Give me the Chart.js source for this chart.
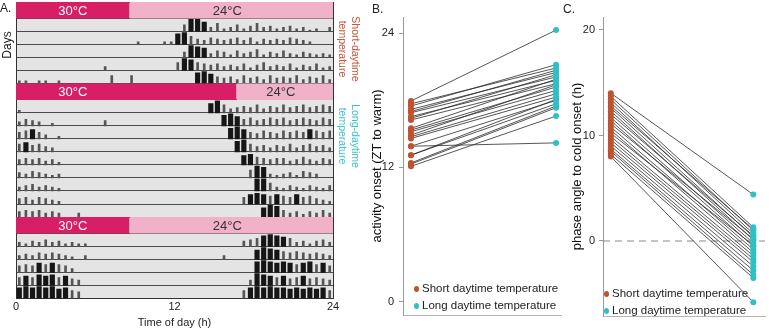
<!DOCTYPE html>
<html lang="en">
<head>
<meta charset="UTF-8">
<title>Warm/cold daytime temperature and activity onset</title>
<script src="https://cdn.jsdelivr.net/npm/chart.js"></script>
<style>
    body { margin: 0; background: #fff; font-family: "Liberation Sans", Arial, sans-serif; color: #222; }
    #wrap { position: relative; width: 769px; height: 330px; overflow: hidden; }
    canvas { position: absolute; top: 0; }
    .lbl { position: absolute; font-size: 12px; line-height: 12px; }
    .rot { position: absolute; text-align: center; white-space: nowrap; }
    .leg { position: absolute; font-size: 11.5px; line-height: 12px; white-space: nowrap; }
    .leg i { display: inline-block; width: 5px; height: 6px; border-radius: 50%; margin-right: 3px; vertical-align: 0; }
</style>
</head>
<body>
<div id="wrap">
    <canvas id="chartA" width="345" height="330" style="left:0"></canvas>
    <canvas id="chartB" width="220" height="330" style="left:345px"></canvas>
    <canvas id="chartC" width="214" height="330" style="left:555px"></canvas>

    <div class="lbl" style="left:0;top:2px">A.</div>
    <div class="lbl" style="left:372px;top:3px">B.</div>
    <div class="lbl" style="left:563px;top:3px">C.</div>

    <!-- подписи сбоку от актограммы -->
    <div class="rot" style="left:-20px;top:38px;width:54px;height:14px;font-size:12px;transform:rotate(-90deg)">Days</div>
    <div class="rot" style="left:314px;top:36px;width:70px;height:26px;font-size:10.5px;line-height:13px;color:#c4553a;transform:rotate(90deg)">Short-daytime<br>temperature</div>
    <div class="rot" style="left:314px;top:123px;width:70px;height:26px;font-size:10.5px;line-height:13px;color:#3cc4c8;transform:rotate(90deg)">Long-daytime<br>temperature</div>

    <!-- легенды B и C -->
    <div class="leg" style="left:414px;top:282px"><i style="background:#c0522f"></i>Short daytime temperature</div>
    <div class="leg" style="left:414px;top:299px"><i style="background:#2fc0c6"></i>Long daytime temperature</div>
    <div class="leg" style="left:604px;top:287px"><i style="background:#c0522f"></i>Short daytime temperature</div>
    <div class="leg" style="left:604px;top:304px"><i style="background:#2fc0c6"></i>Long daytime temperature</div>
</div>

<script>
// ---- A. актограмма ----
// конец тёплой фазы (30°C) в каждом блоке, часы
const WARM_END = [8.6, 16.7, 8.6];
const ROWS_PER_BLOCK = [5, 9, 5];
const TEMP_LABELS = ['30°C', '24°C'];
const HOUR_TICKS = [0, 12, 24];
const BIN_H = 0.5;
// активность по получасовым бинам, уровень 0-9
const ACTIVITY = [
    '00000000 00000000 00000000 05997362 35246342 34231203',
    '00000000 00000000 00200022 89643543 45352434 35432000',
    '00000000 00000000 00000000 04987354 25346243 53243232',
    '00000000 00000300 00000000 69865453 43524634 35243523',
    '22022020 00000060 06000000 00089754 53645364 54635463',
    '20000000 00000000 00000000 00000796 34546354 64564565',
    '35430200 00000400 00000000 00000008 97564565 64565465',
    '56753020 00000000 00000000 00000000 89754654 65657656',
    '67564300 00000000 00000000 00000000 08964535 46356453',
    '45453420 00000000 00000000 00000000 00786545 53464354',
    '43543230 00000000 00000000 00000000 00069832 34254300',
    '34534320 00000000 00000000 00000000 00009963 24324324',
    '45354320 00000000 00000000 00000000 00578767 65756432',
    '45453430 03000000 00000000 00000000 00000798 53424353',
    '32435342 32200000 00000000 00000000 00456898 76342453',
    '34354543 20300000 00000000 00000003 00007987 65654543',
    '56576765 30000000 00000000 00000000 00008987 87678675',
    '67687867 54000000 00000000 00000000 00049876 75675654',
    '89898978 65000000 00000000 00000000 00689898 87878786'
];

// ---- B. начало активности (ZT к тёплой фазе) ----
const B_SHORT = [17.95, 17.7, 17.5, 17.2, 17.0, 16.9, 16.55, 16.4, 16.25, 15.5, 15.35, 15.2, 14.9, 14.75, 14.6, 13.9, 13.9, 13.1, 13.1, 12.4, 12.3, 12.1];
const B_LONG  = [24.3, 20.9, 21.2, 20.5, 20.7, 20.1, 19.8, 20.3, 19.5, 19.9, 19.2, 18.9, 19.4, 18.6, 18.3, 18.0, 14.2, 18.1, 17.7, 17.5, 17.35, 16.6];
const B_TICKS = [0, 12, 24];

// ---- C. фазовый угол к началу холода ----
const C_SHORT = [14.0, 13.7, 13.4, 13.1, 12.8, 12.6, 12.3, 12.0, 11.7, 11.4, 11.1, 10.8, 10.5, 10.2, 9.9, 9.6, 9.3, 9.0, 8.7, 8.5, 8.2, 8.0];
const C_LONG  = [4.4, 1.3, 1.0, 0.7, 1.1, 0.4, 0.1, 0.5, -0.2, -0.5, 0.2, -0.8, -1.1, -0.4, -1.4, -1.7, -2.0, -2.4, -2.8, -3.2, -3.5, -5.8];
const C_TICKS = [0, 10, 20];

const FONT = '"Liberation Sans", Arial, sans-serif';
const RED = '#c0522f', CYAN = '#2fc0c6';
Chart.defaults.font.family = FONT;
Chart.defaults.color = '#222';

// строим строки актограммы
const HEAD_H = 1.26, ROW_H = 1;
const bounds = [0], headers = [], denseBars = [], sparseBars = [];
let yPos = 0, k = 0;
WARM_END.forEach(function (end, b) {
    headers.push({ top: yPos, bottom: yPos + HEAD_H, end: end });
    yPos += HEAD_H;
    bounds.push(yPos);
    for (let r = 0; r < ROWS_PER_BLOCK[b]; r++, k++) {
        const base = yPos + ROW_H;
        ACTIVITY[k].replace(/ /g, '').split('').forEach(function (c, i) {
            const lv = +c;
            if (!lv) return;
            const bar = { x: (i + 0.5) * BIN_H, y: [base, base - lv / 9 * 0.92 * ROW_H] };
            (lv >= 7 ? denseBars : sparseBars).push(bar);
        });
        yPos = base;
        bounds.push(yPos);
    }
});
const Y_MAX_A = yPos;

const headerSets = [];
headers.forEach(function (h) {
    headerSets.push({
        type: 'line', data: [{ x: 0, y: h.top }, { x: h.end, y: h.top }],
        fill: { value: h.bottom }, backgroundColor: '#d81f66',
        borderColor: 'transparent', pointRadius: 0
    });
    headerSets.push({
        type: 'line', data: [{ x: h.end, y: h.top }, { x: 24, y: h.top }],
        fill: { value: h.bottom }, backgroundColor: '#f1b1c9',
        borderColor: 'transparent', pointRadius: 0
    });
});

const greyBack = {
    id: 'greyBack',
    beforeDraw(chart) {
        const a = chart.chartArea, ctx = chart.ctx;
        ctx.save();
        ctx.fillStyle = '#e4e4e4';
        ctx.fillRect(a.left, a.top, a.right - a.left, a.bottom - a.top);
        ctx.restore();
    }
};

const headerLabels = {
    id: 'headerLabels',
    afterDatasetsDraw(chart) {
        const ctx = chart.ctx, x = chart.scales.x, y = chart.scales.y;
        ctx.save();
        ctx.font = '13px ' + FONT;
        ctx.textAlign = 'center';
        ctx.textBaseline = 'middle';
        headers.forEach(function (h) {
            const cy = y.getPixelForValue(h.top + HEAD_H / 2) + 1;
            ctx.fillStyle = '#fff';
            ctx.fillText(TEMP_LABELS[0], x.getPixelForValue(4.3), cy);
            ctx.fillStyle = '#333';
            ctx.fillText(TEMP_LABELS[1], x.getPixelForValue((h.end + 24) / 2 - 0.3), cy);
        });
        ctx.restore();
    }
};

new Chart(document.getElementById('chartA'), {
    data: {
        datasets: headerSets.concat([
            { type: 'bar', data: denseBars, grouped: false, barThickness: 4.5, borderWidth: 0, backgroundColor: '#161616' },
            { type: 'bar', data: sparseBars, grouped: false, barThickness: 2, borderWidth: 0, backgroundColor: '#555' }
        ])
    },
    options: {
        responsive: false, animation: false,
        layout: { padding: { left: 16, right: 12, top: 2, bottom: 1.5 } },
        plugins: { legend: { display: false }, tooltip: { enabled: false } },
        scales: {
            x: {
                type: 'linear', min: 0, max: 24, offset: false,
                afterBuildTicks: function (a) { a.ticks = HOUR_TICKS.map(function (v) { return { value: v }; }); },
                ticks: { font: { size: 11, lineHeight: 1 }, padding: 2.5, color: '#222' },
                grid: { display: false, drawTicks: false },
                border: { color: '#333' },
                title: { display: true, text: 'Time of day (h)', font: { size: 11, lineHeight: 1 }, padding: { top: 3, bottom: 0 }, color: '#222' }
            },
            y: {
                type: 'linear', min: 0, max: Y_MAX_A, reverse: true, z: 1,
                afterBuildTicks: function (a) { a.ticks = bounds.map(function (v) { return { value: v }; }); },
                ticks: { display: false },
                grid: { color: '#4a4a4a', drawTicks: false },
                border: { color: '#333' }
            },
            y2: {
                type: 'linear', position: 'right', min: 0, max: 1,
                ticks: { display: false },
                grid: { display: false, drawTicks: false },
                border: { color: '#333' }
            }
        }
    },
    plugins: [greyBack, headerLabels]
});

// парные точки для B и C
function pairedSets(shortVals, longVals) {
    const sets = [];
    shortVals.forEach(function (s, i) {
        sets.push({
            data: [{ x: 0, y: s }, { x: 1, y: longVals[i] }],
            borderColor: '#2b2b2b', borderWidth: 0.8, pointRadius: 0, order: 2
        });
    });
    sets.push({
        data: shortVals.map(function (v) { return { x: 0, y: v }; }), showLine: false,
        pointRadius: 3, pointBackgroundColor: RED, pointBorderWidth: 0, clip: false, order: 0
    });
    sets.push({
        data: longVals.map(function (v) { return { x: 1, y: v }; }), showLine: false,
        pointRadius: 3, pointBackgroundColor: CYAN, pointBorderWidth: 0, clip: false, order: 0
    });
    return sets;
}

function pairOptions(o) {
    return {
        responsive: false, animation: false,
        layout: { padding: { left: o.padLeft, right: o.padRight, top: 17, bottom: o.padBottom } },
        plugins: { legend: { display: false }, tooltip: { enabled: false } },
        scales: {
            x: {
                type: 'linear', min: o.xMin, max: o.xMax,
                ticks: { display: false },
                grid: { display: false, drawTicks: false },
                border: { color: '#b5b5b5' }
            },
            y: {
                type: 'linear', min: o.yMin, max: o.yMax,
                afterBuildTicks: function (a) { a.ticks = o.ticks.map(function (v) { return { value: v }; }); },
                afterFit: function (s) { s.width = 33; },
                ticks: { font: { size: 11 }, padding: o.tickPad, color: '#222' },
                grid: { drawOnChartArea: false, tickLength: 4, color: '#999' },
                border: { color: '#999' },
                title: { display: true, text: o.title, font: { size: 13 }, color: '#111', padding: { top: 0, bottom: 0 } }
            }
        }
    };
}

new Chart(document.getElementById('chartB'), {
    type: 'line',
    data: { datasets: pairedSets(B_SHORT, B_LONG) },
    options: pairOptions({
        padLeft: 25, padRight: 3, padBottom: 15, tickPad: 5,
        xMin: -0.055, xMax: 1.034, yMin: -1.21, yMax: 25.47,
        ticks: B_TICKS, title: 'activity onset (ZT to warm)'
    })
});

const C_X_MIN = -0.055, C_X_MAX = 1.082;
const cSets = pairedSets(C_SHORT, C_LONG);
cSets.push({
    data: [{ x: C_X_MIN, y: 0 }, { x: C_X_MAX, y: 0 }],
    borderColor: '#8a8a8a', borderWidth: 1, borderDash: [7, 5], pointRadius: 0, order: 3
});
new Chart(document.getElementById('chartC'), {
    type: 'line',
    data: { datasets: cSets },
    options: pairOptions({
        padLeft: 15, padRight: 0, padBottom: 14, tickPad: 4,
        xMin: C_X_MIN, xMax: C_X_MAX, yMin: -7.11, yMax: 21.23,
        ticks: C_TICKS, title: 'phase angle to cold onset (h)'
    })
});
</script>
</body>
</html>
